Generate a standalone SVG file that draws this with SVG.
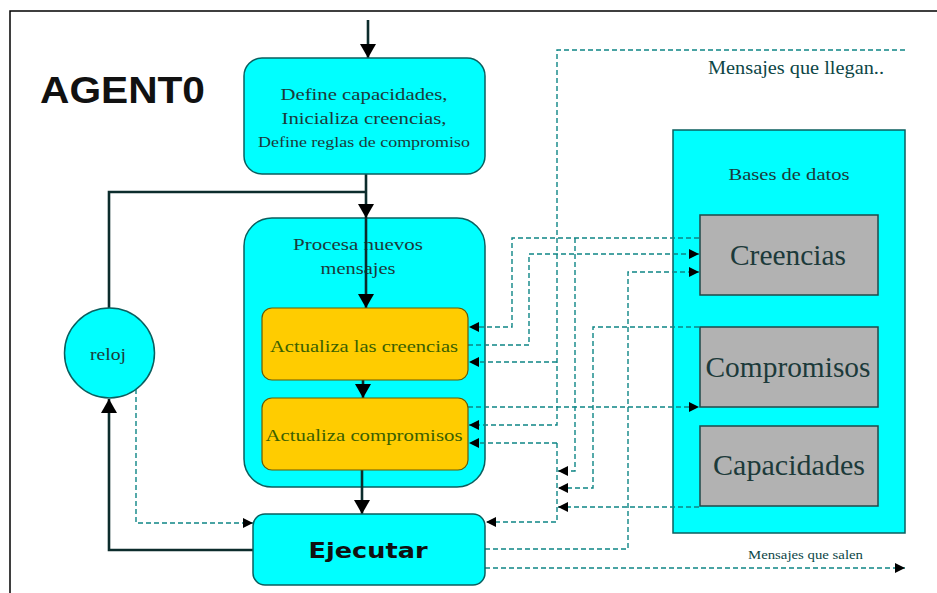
<svg xmlns="http://www.w3.org/2000/svg" width="937" height="593" viewBox="0 0 937 593">
  <style>
    .serif { font-family: "Liberation Serif", "Times New Roman", serif; }
    .cyan { fill: #00FFFF; stroke: #0b5f5f; stroke-width: 1.5; }
    .orange { fill: #FFCC00; stroke: #6b5a00; stroke-width: 1.2; }
    .grey { fill: #B2B2B2; stroke: #1f4a4a; stroke-width: 1.5; }
    .flow { fill: none; stroke: #0c2c2c; stroke-width: 2.6; }
    .dash { fill: none; stroke: #0e8585; stroke-width: 1.4; stroke-dasharray: 5 3; }
    .lbl { fill: #1c3a3a; }
    .olive { fill: #3a6000; }
  </style>
  <defs>
    <marker id="head" markerUnits="userSpaceOnUse" markerWidth="14" markerHeight="16" refX="14" refY="8" orient="auto">
      <path d="M0,0 L14,8 L0,16 z" fill="#000"/>
    </marker>
    <marker id="dhead" markerUnits="userSpaceOnUse" markerWidth="10" markerHeight="10" refX="10" refY="5" orient="auto">
      <path d="M0,0 L10,5 L0,10 z" fill="#000"/>
    </marker>
  </defs>

  <rect width="937" height="593" fill="#fff"/>
  <!-- page frame -->
  <path d="M10,593 V11 H937" fill="none" stroke="#000" stroke-width="1.5"/>

  <text x="40" y="103" font-family="'Liberation Sans', Arial, sans-serif" font-weight="bold" font-size="36" textLength="165" lengthAdjust="spacingAndGlyphs" fill="#111">AGENT0</text>

  <!-- database container -->
  <g id="bases">
    <rect class="cyan" x="673" y="130" width="232" height="403"/>
    <text class="serif lbl" x="789" y="180" font-size="17" text-anchor="middle" textLength="121" lengthAdjust="spacingAndGlyphs">Bases de datos</text>
  </g>

  <g id="procesa">
    <rect class="cyan" x="244" y="218" width="241" height="269" rx="28"/>
    <text class="serif lbl" x="358" y="250" font-size="17" text-anchor="middle" textLength="130" lengthAdjust="spacingAndGlyphs">Procesa nuevos</text>
    <text class="serif lbl" x="358" y="274" font-size="17" text-anchor="middle" textLength="75" lengthAdjust="spacingAndGlyphs">mensajes</text>
  </g>

  <!-- connectors -->
  <g id="connectors">
    <!-- main flow -->
    <path class="flow" d="M368,20 V58" marker-end="url(#head)"/>
    <path class="flow" d="M366,174 V218" marker-end="url(#head)"/>
    <path class="flow" d="M366,218 V308" marker-end="url(#head)"/>
    <path class="flow" d="M363,380 V398" marker-end="url(#head)"/>
    <path class="flow" d="M362,470 V514" marker-end="url(#head)"/>
    <path class="flow" d="M366,192 H109 V308"/>
    <path class="flow" d="M253,550 H109 V399" marker-end="url(#head)"/>
    <path class="dash" d="M136,389 V523 H253" marker-end="url(#dhead)"/>

    <!-- incoming messages -->
    <path class="dash" d="M905,50 H557 V425 H469" marker-end="url(#dhead)"/>
    <path class="dash" d="M557,362 H469" marker-end="url(#dhead)"/>

    <!-- belief base links -->
    <path class="dash" d="M699,238 H512 V327 H469" marker-end="url(#dhead)"/>
    <path class="dash" d="M575,238 V471 H558" marker-end="url(#dhead)"/>
    <path class="dash" d="M468,345 H529 V254 H699" marker-end="url(#dhead)"/>
    <path class="dash" d="M485,549 H628 V272 H699" marker-end="url(#dhead)"/>

    <!-- commitments / capabilities -->
    <path class="dash" d="M699,327 H593 V488 H558" marker-end="url(#dhead)"/>
    <path class="dash" d="M468,407 H699" marker-end="url(#dhead)"/>
    <path class="dash" d="M699,507 H558" marker-end="url(#dhead)"/>

    <!-- collected inputs -->
    <path class="dash" d="M557,443 H469" marker-end="url(#dhead)"/>
    <path class="dash" d="M557,443 V522 H486" marker-end="url(#dhead)"/>

    <!-- outgoing messages -->
    <path class="dash" d="M485,568 H905" marker-end="url(#dhead)"/>
  </g>

  <g id="inicio">
    <rect class="cyan" x="244" y="58" width="241" height="116" rx="18"/>
    <text class="serif lbl" x="364" y="100" font-size="17" text-anchor="middle" textLength="167" lengthAdjust="spacingAndGlyphs">Define capacidades,</text>
    <text class="serif lbl" x="364" y="124" font-size="17" text-anchor="middle" textLength="165" lengthAdjust="spacingAndGlyphs">Inicializa creencias,</text>
    <text class="serif lbl" x="364" y="147" font-size="14" text-anchor="middle" textLength="212" lengthAdjust="spacingAndGlyphs">Define reglas de compromiso</text>
  </g>

  <g id="act-creencias">
    <rect class="orange" x="262" y="308" width="206" height="72" rx="10"/>
    <text class="serif olive" x="364" y="352" font-size="17" text-anchor="middle" textLength="188" lengthAdjust="spacingAndGlyphs">Actualiza las creencias</text>
  </g>

  <g id="act-compromisos">
    <rect class="orange" x="262" y="398" width="206" height="72" rx="10"/>
    <text class="serif olive" x="364" y="441" font-size="17" text-anchor="middle" textLength="197" lengthAdjust="spacingAndGlyphs">Actualiza compromisos</text>
  </g>

  <g id="ejecutar">
    <rect class="cyan" x="253" y="514" width="232" height="71" rx="12"/>
    <text x="368" y="558" font-family="'DejaVu Sans', Verdana, sans-serif" font-weight="bold" font-size="22" text-anchor="middle" textLength="119" lengthAdjust="spacingAndGlyphs" fill="#111">Ejecutar</text>
  </g>

  <g id="reloj">
    <circle class="cyan" cx="109.5" cy="353" r="45"/>
    <text class="serif lbl" x="108" y="360" font-size="17" text-anchor="middle" textLength="36" lengthAdjust="spacingAndGlyphs">reloj</text>
  </g>

  <g id="creencias">
    <rect class="grey" x="700" y="215" width="178" height="80"/>
    <text class="serif lbl" x="788" y="265" font-size="29" text-anchor="middle" textLength="116" lengthAdjust="spacingAndGlyphs">Creencias</text>
  </g>

  <g id="compromisos">
    <rect class="grey" x="700" y="327" width="178" height="80"/>
    <text class="serif lbl" x="788" y="377" font-size="29" text-anchor="middle" textLength="165" lengthAdjust="spacingAndGlyphs">Compromisos</text>
  </g>

  <g id="capacidades">
    <rect class="grey" x="700" y="426" width="178" height="80"/>
    <text class="serif lbl" x="789" y="475" font-size="29" text-anchor="middle" textLength="152" lengthAdjust="spacingAndGlyphs">Capacidades</text>
  </g>

  <text class="serif" x="708" y="74" font-size="18" fill="#0c4646" textLength="176" lengthAdjust="spacingAndGlyphs">Mensajes que llegan..</text>
  <text class="serif" x="748" y="559" font-size="13" fill="#0c4646" textLength="115" lengthAdjust="spacingAndGlyphs">Mensajes que salen</text>
</svg>
